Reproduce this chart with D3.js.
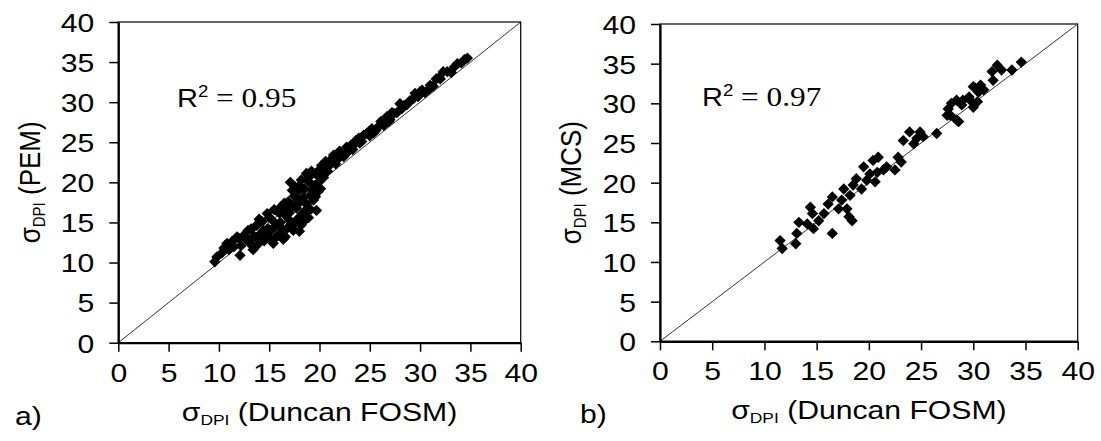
<!DOCTYPE html>
<html lang="en">
<head>
<meta charset="UTF-8">
<title>sigma DPI comparison</title>
<script src="https://d3js.org/d3.v7.min.js"></script>
<style>
  body { margin: 0; background: #fff; }
  text { font-family: "Liberation Sans", Arial, sans-serif; fill: #000; }
</style>
</head>
<body>
<script>
const ticks = [0, 5, 10, 15, 20, 25, 30, 35, 40]

// panel a) sigma DPI: Duncan FOSM vs PEM
const pemX = [9.6, 9.8, 10.3, 10.8, 11.0, 11.3, 11.8, 12.1, 12.2, 12.5, 12.9, 13.0, 13.4, 13.5, 13.7, 13.9,
  14.2, 14.3, 14.5, 14.8, 14.9, 15.1, 15.3, 15.4, 15.6, 15.8, 15.9, 16.1, 16.2, 16.4, 16.6, 16.6,
  16.8, 16.9, 17.0, 17.1, 17.2, 17.4, 17.5, 17.6, 17.7, 17.8, 17.9, 18.0, 18.1, 18.2, 18.3, 18.4,
  18.5, 18.7, 18.7, 18.9, 19.0, 19.1, 19.2, 19.4, 19.5, 19.7, 19.8, 19.9, 20.1, 20.1, 20.2, 20.4,
  20.6, 20.8, 21.1, 21.4, 21.6, 21.9, 22.1, 22.4, 22.7, 23.1, 23.3, 23.6, 23.9, 24.2, 24.4, 24.7,
  25.0, 25.2, 25.6, 25.9, 26.4, 26.7, 27.0, 27.4, 27.7, 28.0, 28.4, 28.7, 29.0, 29.5, 29.8, 30.2,
  30.5, 30.9, 31.3, 31.9, 32.3, 32.7, 33.1, 33.7, 34.1, 34.7,
  10.5, 11.5, 12.0, 12.7, 13.2, 13.3, 13.8, 14.0, 14.4, 14.7, 15.0, 15.2, 15.5, 15.7, 16.0, 16.3,
  16.5, 16.7, 17.0, 17.3, 17.3, 17.6, 17.8, 18.0, 18.2, 18.4, 18.6, 18.9, 19.1, 19.3, 19.6, 19.6,
  20.0, 20.3, 20.9, 21.3, 22.0, 22.9, 23.5, 24.0, 24.9, 25.4, 26.1, 26.9, 27.2, 28.2, 29.3, 30.0,
  31.0, 31.6, 32.0, 33.4, 34.4]
const pemY = [10.1, 10.7, 11.2, 12.4, 11.6, 12.6, 13.2, 10.9, 12.1, 13.4, 14.0, 12.6, 11.6, 13.3, 14.6, 12.3,
  13.6, 15.1, 12.7, 16.1, 14.2, 13.0, 15.3, 12.4, 14.5, 16.4, 13.4, 15.0, 17.0, 12.9, 13.2, 15.9,
  14.3, 17.6, 16.2, 20.0, 14.8, 14.0, 18.3, 19.4, 16.8, 15.4, 18.9, 13.9, 17.6, 20.3, 16.1, 15.1,
  19.2, 21.1, 17.3, 15.6, 20.0, 18.4, 21.4, 17.8, 19.6, 16.5, 20.9, 18.9, 19.2, 21.7, 22.1, 20.6,
  22.6, 21.4, 22.8, 23.4, 22.3, 23.0, 23.6, 23.2, 24.4, 24.6, 24.1, 25.2, 25.5, 25.1, 25.9, 26.1,
  25.8, 26.7, 26.5, 27.0, 27.1, 28.2, 27.8, 28.6, 28.7, 29.8, 29.6, 29.7, 30.2, 31.1, 30.7, 31.5,
  31.2, 31.6, 32.0, 33.1, 33.8, 33.8, 33.7, 34.8, 34.9, 35.5,
  11.8, 12.0, 13.0, 12.9, 14.2, 12.1, 13.1, 15.4, 14.0, 13.3, 15.6, 14.0, 16.6, 13.2, 16.2, 14.2,
  17.4, 16.6, 15.3, 17.1, 19.0, 14.9, 17.4, 19.6, 14.7, 18.1, 16.5, 20.6, 16.6, 19.0, 21.1, 18.2,
  20.1, 21.3, 22.0, 22.6, 23.9, 23.9, 24.8, 24.9, 26.3, 26.2, 27.6, 27.6, 28.7, 29.2, 30.4, 31.3,
  32.1, 32.9, 32.9, 34.4, 35.3]

// panel b) sigma DPI: Duncan FOSM vs MCS
const mcsX = [11.5, 11.7, 13.0, 13.1, 13.3, 14.1, 14.4, 14.6, 14.7, 15.2, 15.7, 16.1, 16.5, 16.5, 17.1, 17.4,
  17.6, 17.9, 18.1, 18.4, 18.2, 18.5, 18.8, 19.3, 19.5, 19.8, 20.1, 20.4, 20.6, 20.9, 20.8, 21.4,
  21.7, 22.5, 22.8, 23.1, 23.3, 23.9, 24.3, 24.6, 24.9, 25.2, 26.5, 27.5, 27.6, 27.9, 28.4, 28.4,
  29.0, 29.6, 30.0, 30.4, 30.5, 31.0, 31.8, 31.9, 32.3, 32.7, 33.7, 34.6, 30.7, 30.0, 27.8, 28.6,
  28.9, 29.7, 30.2]
const mcsY = [12.7, 11.7, 12.3, 13.6, 15.0, 14.8, 16.9, 16.1, 14.2, 15.2, 16.1, 17.3, 18.2, 13.6, 16.7, 17.8,
  19.2, 16.7, 15.7, 15.2, 18.4, 19.7, 20.5, 19.2, 22.0, 20.3, 21.1, 22.8, 20.1, 23.2, 21.3, 21.6,
  22.0, 21.6, 23.2, 22.6, 25.3, 26.4, 24.9, 25.6, 26.4, 25.8, 26.2, 28.5, 29.3, 30.0, 27.9, 30.4,
  30.4, 30.8, 32.1, 30.2, 31.4, 31.7, 34.0, 32.9, 34.8, 34.2, 34.2, 35.2, 32.3, 29.5, 28.5, 27.7,
  29.8, 30.4, 31.9]

const stretch = 1.16

const panels = [
  { xs: pemX, ys: pemY, method: '(PEM)', r2: '0.95', tag: 'a)',
    left: 118.3, right: 520.7, top: 22, bottom: 342.7, r2x: 177, r2y: 107, titleX: 40, tagX: 15 },
  { xs: mcsX, ys: mcsY, method: '(MCS)', r2: '0.97', tag: 'b)',
    left: 660, right: 1077.7, top: 24, bottom: 341.3, r2x: 702, r2y: 106, titleX: 581, tagX: 580 }
]

const svg = d3.select('body').append('svg')
  .attr('width', 1101)
  .attr('height', 441)

const diamond = d3.symbol().type(d3.symbolSquare).size(64)

function sigmaLabel(sel, rest) {
  sel.append('tspan').text('σ')
  sel.append('tspan').text('DPI').attr('font-size', 15).attr('dy', 4)
  sel.append('tspan').text(' ' + rest).attr('dy', -4)
}

panels.forEach(p => {
  const x = d3.scaleLinear().domain([0, 40]).range([p.left, p.right])
  const y = d3.scaleLinear().domain([0, 40]).range([p.bottom, p.top])

  const g = svg.append('g')

  // thin frame on top / right
  g.append('rect')
    .attr('x', p.left).attr('y', p.top)
    .attr('width', p.right - p.left).attr('height', p.bottom - p.top)
    .attr('fill', 'none').attr('stroke', '#000').attr('stroke-width', 1.2)

  // 1:1 line
  g.append('path')
    .datum([0, 40])
    .attr('d', d3.line().x(d => x(d)).y(d => y(d)))
    .attr('stroke', '#000').attr('stroke-width', 0.8).attr('fill', 'none')

  g.selectAll('path.pt')
    .data(d3.range(p.xs.length))
    .enter()
    .append('path')
    .attr('class', 'pt')
    .attr('d', diamond)
    .attr('transform', i => `translate(${x(p.xs[i])},${y(p.ys[i])}) rotate(45)`)
    .attr('fill', '#000')

  const xAxis = g.append('g')
    .attr('transform', `translate(0,${p.bottom})`)
    .call(d3.axisBottom(x).tickValues(ticks).tickSize(9).tickSizeOuter(0))
  const yAxis = g.append('g')
    .attr('transform', `translate(${p.left},0)`)
    .call(d3.axisLeft(y).tickValues(ticks).tickSize(9).tickSizeOuter(0))

  ;[xAxis, yAxis].forEach(a => {
    a.select('.domain').attr('stroke-width', 2.2)
    a.selectAll('.tick line').attr('stroke-width', 1.5)
    a.selectAll('.tick text').attr('font-size', 26).attr('font-family', '"Liberation Sans", Arial, sans-serif')
  })
  xAxis.selectAll('.tick text')
    .attr('y', 39).attr('dy', 0)
    .attr('transform', `scale(${stretch},1)`)
  yAxis.selectAll('.tick text')
    .attr('x', -24 / stretch).attr('dy', '0.36em')
    .attr('transform', `scale(${stretch},1)`)

  // x title
  const xt = g.append('text')
    .attr('transform', `translate(${(p.left + p.right) / 2},${p.bottom + 78}) scale(${stretch},1)`)
    .attr('text-anchor', 'middle')
    .attr('font-size', 26)
  sigmaLabel(xt, '(Duncan FOSM)')

  // y title
  const yt = g.append('text')
    .attr('transform', `translate(${p.titleX},${(p.top + p.bottom) / 2}) rotate(-90) scale(1,${stretch})`)
    .attr('text-anchor', 'middle')
    .attr('font-size', 26)
  sigmaLabel(yt, p.method)

  // R squared
  const rt = g.append('text')
    .attr('transform', `translate(${p.r2x},${p.r2y}) scale(${stretch},1)`)
    .attr('font-size', 25)
  rt.append('tspan').text('R')
  rt.append('tspan').text('2').attr('font-size', 16).attr('dy', -10)
  rt.append('tspan').text(' = ' + p.r2).attr('dy', 10)
    .attr('font-family', '"Liberation Serif", "Times New Roman", serif').attr('font-size', 27)

  // panel tag
  g.append('text')
    .attr('transform', `translate(${p.tagX},${p.bottom + 82}) scale(${stretch},1)`)
    .attr('font-size', 26)
    .text(p.tag)
})
</script>
</body>
</html>
